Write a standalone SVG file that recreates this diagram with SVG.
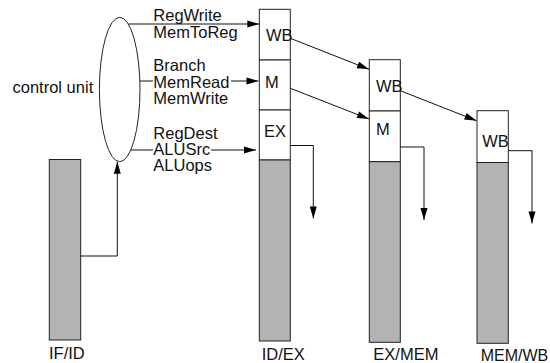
<svg xmlns="http://www.w3.org/2000/svg" width="550" height="363" viewBox="0 0 550 363">
<defs>
<marker id="ah" markerUnits="userSpaceOnUse" markerWidth="12" markerHeight="7" refX="12" refY="3.5" orient="auto" overflow="visible">
<path d="M0,0 L12,3.5 L0,7 z" fill="#000"/>
</marker>
<style>
text{font-family:"Liberation Sans",Arial,Helvetica,sans-serif;font-size:16.5px;fill:#111}
.box{fill:#fff;stroke:#222;stroke-width:1}
.gray{fill:#b3b3b3;stroke:#222;stroke-width:1}
.ln{fill:none;stroke:#111;stroke-width:1}
.arr{fill:none;stroke:#111;stroke-width:1;marker-end:url(#ah)}
</style>
</defs>
<rect width="550" height="363" fill="#fff"/>

<g id="control-unit">
<ellipse cx="119.7" cy="89.5" rx="20.3" ry="72.2" fill="#fff" stroke="#222" stroke-width="1"/>
<text x="12.5" y="92.7">control unit</text>
</g>

<g id="if-id">
<rect class="gray" x="49.3" y="159.5" width="31.4" height="180.5"/>
<text x="49" y="359">IF/ID</text>
</g>

<g id="id-ex">
<rect class="box" x="259.3" y="9.3" width="31" height="50.7"/>
<rect class="box" x="259.3" y="60" width="31" height="50"/>
<rect class="box" x="259.3" y="110" width="31" height="50"/>
<rect class="gray" x="259.3" y="160" width="31" height="181"/>
<text x="266" y="41">WB</text>
<text x="265" y="88.3">M</text>
<text x="264" y="136.7">EX</text>
<text x="261.7" y="360">ID/EX</text>
</g>

<g id="ex-mem">
<rect class="box" x="369.3" y="59.7" width="31" height="51.3"/>
<rect class="box" x="369.3" y="111" width="31" height="50.7"/>
<rect class="gray" x="369.3" y="161.7" width="31" height="180.6"/>
<text x="376" y="92.3">WB</text>
<text x="376" y="135">M</text>
<text x="373.3" y="360">EX/MEM</text>
</g>

<g id="mem-wb">
<rect class="box" x="477" y="110.7" width="31.3" height="51.8"/>
<rect class="gray" x="477" y="162.5" width="31.3" height="180.8"/>
<text x="482.3" y="147.3">WB</text>
<text x="480.7" y="360.5" style="font-size:16px">MEM/WB</text>
</g>

<g id="connectors">
<polyline class="arr" points="80.7,256 117.3,256 117.3,161.7"/>
<line class="arr" x1="128.3" y1="24" x2="259.3" y2="24"/>
<line class="ln" x1="140" y1="81" x2="153" y2="81"/>
<line class="arr" x1="231" y1="81" x2="258.5" y2="81"/>
<line class="ln" x1="130.8" y1="150" x2="153" y2="150"/>
<line class="arr" x1="211" y1="150" x2="256" y2="150"/>
<line class="arr" x1="290.3" y1="38.3" x2="369" y2="69.3"/>
<line class="arr" x1="290.3" y1="88.3" x2="369" y2="119"/>
<line class="arr" x1="400.3" y1="90.7" x2="476.5" y2="120.7"/>
<polyline class="arr" points="290.3,145.5 313.3,145.5 313.3,218.5"/>
<polyline class="arr" points="400.3,147 424,147 424,220"/>
<polyline class="arr" points="508.3,150.7 532,150.7 532,223.5"/>
<text x="153.3" y="20.5">RegWrite</text>
<text x="153.3" y="38">MemToReg</text>
<text x="153.3" y="71">Branch</text>
<text x="153.3" y="87.7">MemRead</text>
<text x="153.3" y="104.3">MemWrite</text>
<text x="153.3" y="139">RegDest</text>
<text x="153.3" y="155.3">ALUSrc</text>
<text x="153.3" y="171">ALUops</text>
</g>
</svg>
